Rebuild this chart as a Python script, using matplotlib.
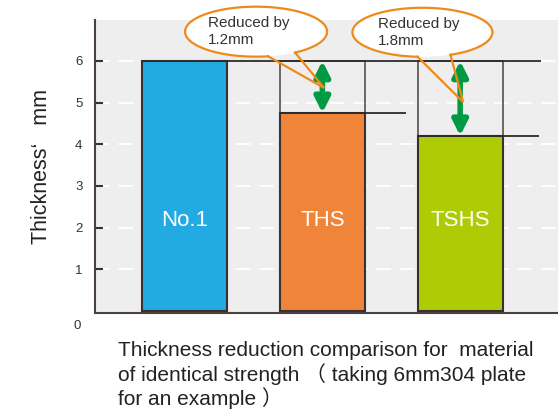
import numpy as np
import matplotlib
matplotlib.use("Agg")
import matplotlib.pyplot as plt
from matplotlib.patches import Ellipse

plt.rcParams['font.family'] = ['Liberation Sans', 'Noto Sans CJK SC', 'DejaVu Sans']

# data
names = ['No.1', 'THS', 'TSHS']
thickness = [6.0, 4.75, 4.2]
original = 6.0
reductions = ['1.2mm', '1.8mm']
bar_colors = ['#22ABE3', '#F0853A', '#ADCC05']
y_ticks = [1, 2, 3, 4, 5, 6]
caption = ['Thickness reduction comparison for  material',
           'of identical strength （ taking 6mm304 plate',
           'for an example ）']

fig = plt.figure(figsize=(5.58, 4.12), dpi=100)
ax = fig.add_axes([95/558, 99/412, 463/558, 293/412])
ax.set_facecolor('#EEEEEE')
ax.set_xlim(-0.65, 2.71)
ax.set_ylim(-0.05, 6.98)

x = np.arange(len(names))
w = 0.616

# dashed white grid
for t in y_ticks:
    ax.axhline(t, color='white', lw=1.3, dashes=(8, 5), zorder=1)

# original-thickness outlines
for i in range(1, len(names)):
    ax.bar(x[i], original - thickness[i], w, bottom=thickness[i], facecolor='none',
           edgecolor='#555050', lw=1.2, zorder=2)

ax.bar(x, thickness, w, color=bar_colors, edgecolor='#3a3030', lw=1.5, zorder=3)

for i, n in enumerate(names):
    ax.text(x[i], 2.18, n, color='white', fontsize=16, ha='center', va='center', zorder=5)

# reference lines
ax.hlines(original, x[0] - w/2, 2.588, color='#2f2a2a', lw=1.3, zorder=4)
ax.hlines(thickness[1], x[1] - w/2, 1.608, color='#2f2a2a', lw=1.3, zorder=4)
ax.hlines(thickness[2], x[2] - w/2, 2.573, color='#2f2a2a', lw=1.3, zorder=4)

# green double arrows
for i in range(1, len(names)):
    ax.annotate('', xy=(x[i], thickness[i]), xytext=(x[i], original),
                arrowprops=dict(arrowstyle='<|-|>,head_length=0.9,head_width=0.45',
                                lw=4, color='#009A45', shrinkA=0, shrinkB=0),
                zorder=6)


def callout(cx, cy, ew, eh, th1, th2, tip, label, tx):
    # white body, outline with a gap where the tail leaves
    ax.add_patch(Ellipse((cx, cy), ew, eh, facecolor='white', edgecolor='none',
                         zorder=7, clip_on=False))
    t = np.radians(np.linspace(th2, th1 + 360, 200))
    ax.plot(cx + ew/2*np.cos(t), cy + eh/2*np.sin(t), color='#EE8A1A', lw=1.6,
            zorder=8, clip_on=False)
    p1 = (cx + ew/2*np.cos(np.radians(th1)), cy + eh/2*np.sin(np.radians(th1)))
    p2 = (cx + ew/2*np.cos(np.radians(th2)), cy + eh/2*np.sin(np.radians(th2)))
    ax.plot([p1[0], tip[0], p2[0]], [p1[1], tip[1], p2[1]], color='#EE8A1A',
            lw=1.6, zorder=9, clip_on=False, solid_joinstyle='miter')
    ax.text(tx, cy, 'Reduced by\n' + label, fontsize=11, color='#333333',
            ha='left', va='center', linespacing=1.25, zorder=10)


callout(0.519, 6.70, 1.031, 1.20, -80.3, -56.7, (1.013, 5.35), reductions[0], 0.171)
callout(1.726, 6.685, 1.016, 1.178, -94.0, -66.4, (2.022, 5.01), reductions[1], 1.405)

# axes styling
for s in ['top', 'right']:
    ax.spines[s].set_visible(False)
for s in ['left', 'bottom']:
    ax.spines[s].set_color('#4a4040')
    ax.spines[s].set_linewidth(1.5)
ax.set_xticks([])
ax.set_yticks(y_ticks)
ax.set_yticklabels([str(t) for t in y_ticks])
ax.tick_params(axis='y', direction='in', length=6, width=1.5, color='#3a3030',
               labelsize=9.5, labelcolor='#333333', pad=9)
ax.text(-0.03, -0.35, '0', transform=ax.get_yaxis_transform(), ha='right', va='center',
        fontsize=9.5, color='#333333')

fig.text(42/558, 1 - 167/412, 'Thickness‘   mm', rotation=90, ha='center', va='center',
         fontsize=15.5, color='#222222')

for k, line in enumerate(caption):
    fig.text(118/558, 1 - (350 + 24*k)/412, line, ha='left', va='center',
             fontsize=15, color='#222222')

fig.savefig('out.png', dpi=100)
